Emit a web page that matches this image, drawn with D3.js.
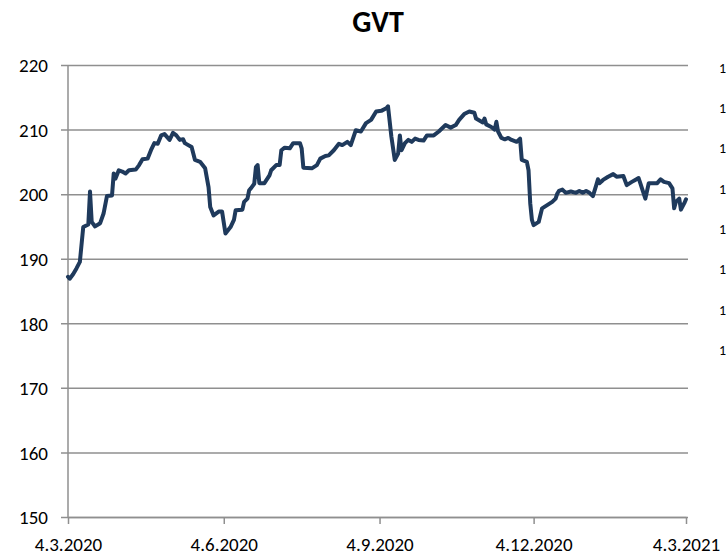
<!DOCTYPE html>
<html lang="en">
<head>
  <meta charset="UTF-8">
  <title>GVT</title>
  <script src="https://cdnjs.cloudflare.com/ajax/libs/d3/7.8.5/d3.min.js"></script>
  <style>
    body { margin: 0; background: #fff; }
    text { font-family: Carlito, Lato, sans-serif; fill: #000; }
  </style>
</head>
<body>
  <div id="chart"></div>
  <script>
// data
var dates = [
  "2020-03-04","2020-03-05","2020-03-07","2020-03-09","2020-03-11","2020-03-13","2020-03-16","2020-03-17",
  "2020-03-18","2020-03-20","2020-03-23","2020-03-25","2020-03-27","2020-03-30","2020-03-31","2020-04-01",
  "2020-04-03","2020-04-05","2020-04-07","2020-04-09","2020-04-13","2020-04-15","2020-04-17","2020-04-20",
  "2020-04-22","2020-04-24","2020-04-26","2020-04-28","2020-04-30","2020-05-03","2020-05-05","2020-05-07",
  "2020-05-09","2020-05-11","2020-05-12","2020-05-16","2020-05-18","2020-05-21","2020-05-24","2020-05-26",
  "2020-05-27","2020-05-29","2020-06-01","2020-06-03","2020-06-05","2020-06-08","2020-06-10","2020-06-11",
  "2020-06-15","2020-06-16","2020-06-18","2020-06-19","2020-06-20","2020-06-22","2020-06-23","2020-06-24",
  "2020-06-25","2020-06-28","2020-07-01","2020-07-02","2020-07-05","2020-07-07","2020-07-08","2020-07-10",
  "2020-07-13","2020-07-15","2020-07-19","2020-07-20","2020-07-21","2020-07-26","2020-07-29","2020-07-31",
  "2020-08-03","2020-08-05","2020-08-08","2020-08-11","2020-08-13","2020-08-16","2020-08-18","2020-08-21",
  "2020-08-24","2020-08-27","2020-08-30","2020-09-02","2020-09-05","2020-09-08","2020-09-09","2020-09-11",
  "2020-09-13","2020-09-15","2020-09-16","2020-09-17","2020-09-19","2020-09-21","2020-09-23","2020-09-25",
  "2020-09-27","2020-09-30","2020-10-02","2020-10-06","2020-10-09","2020-10-13","2020-10-16","2020-10-19",
  "2020-10-21","2020-10-24","2020-10-27","2020-10-30","2020-10-31","2020-11-02","2020-11-04","2020-11-05",
  "2020-11-06","2020-11-09","2020-11-11","2020-11-12","2020-11-13","2020-11-15","2020-11-17","2020-11-19",
  "2020-11-21","2020-11-24","2020-11-26","2020-11-27","2020-11-30","2020-12-01","2020-12-02","2020-12-03",
  "2020-12-04","2020-12-07","2020-12-09","2020-12-12","2020-12-15","2020-12-17","2020-12-18","2020-12-19",
  "2020-12-21","2020-12-23","2020-12-26","2020-12-29","2020-12-31","2021-01-02","2021-01-04","2021-01-06",
  "2021-01-08","2021-01-10","2021-01-11","2021-01-12","2021-01-14","2021-01-17","2021-01-20","2021-01-22",
  "2021-01-26","2021-01-28","2021-01-31","2021-02-02","2021-02-04","2021-02-05","2021-02-06","2021-02-08",
  "2021-02-10","2021-02-13","2021-02-15","2021-02-17","2021-02-19","2021-02-22","2021-02-24","2021-02-25",
  "2021-02-26","2021-02-28","2021-03-01","2021-03-03","2021-03-04"
];
var values = [
  187.2,186.9,187.6,188.5,189.5,194.9,195.3,200.4,
  195.7,195.0,195.5,197.0,199.7,199.8,203.2,202.4,
  203.7,203.5,203.2,203.7,203.8,204.5,205.4,205.5,
  206.8,207.9,207.8,209.1,209.3,208.4,209.5,209.1,
  208.4,208.5,207.9,207.3,205.3,205.0,204.0,201.1,
  198.0,196.7,197.3,197.3,193.9,194.9,196.0,197.5,
  197.6,198.8,199.3,200.6,200.9,201.6,204.2,204.5,
  201.7,201.7,202.9,203.7,204.5,204.5,206.8,207.2,
  207.1,207.9,207.9,207.1,204.1,204.0,204.5,205.5,
  205.9,206.0,206.8,207.8,207.6,208.1,207.6,209.9,
  209.7,211.0,211.5,212.8,212.9,213.3,213.6,208.9,
  205.3,206.3,209.1,206.8,207.9,208.4,208.1,208.6,
  208.4,208.3,209.1,209.1,209.7,210.7,210.3,210.7,
  211.5,212.4,212.8,212.6,211.7,211.4,211.1,211.7,
  210.8,210.4,210.0,211.2,209.7,208.7,208.5,208.7,
  208.4,208.1,208.6,205.3,205.0,203.7,198.6,196.0,
  195.2,195.7,197.8,198.3,198.8,199.3,200.1,200.5,
  200.7,200.2,200.4,200.2,200.5,200.2,200.5,200.2,
  199.7,201.4,202.3,201.7,202.2,202.7,203.1,202.7,
  202.8,201.4,201.9,202.2,202.5,201.7,200.9,199.3,
  201.7,201.7,201.7,202.3,201.9,201.7,200.9,197.8,
  198.8,199.3,197.6,198.6,199.2
];
var xTickDates = ["2020-03-04","2020-06-04","2020-09-04","2020-12-04","2021-03-04"];
var yTicks = [150, 160, 170, 180, 190, 200, 210, 220];
// right-hand labels, cut off at the edge of the picture
var rightTicks = [1.70, 1.65, 1.60, 1.55, 1.50, 1.45, 1.40, 1.35];

var svgWidth = 726;
var svgHeight = 557;
var margin = { top: 65, right: 40, bottom: 40, left: 68 };
var width = 686 - margin.left;
var height = 517 - margin.top;

var parseDate = d3.timeParse("%Y-%m-%d");
var fmtDate = d3.timeFormat("%-d.%-m.%Y");
var data = dates.map(function(d, i) {
  return { date: parseDate(d), value: values[i] };
});

var svg = d3.select("#chart")
  .append("svg")
  .attr("width", svgWidth)
  .attr("height", svgHeight);

var chartGroup = svg.append("g")
  .attr("transform", `translate(${margin.left}, ${margin.top})`);

var xScale = d3.scaleTime()
  .domain([parseDate(xTickDates[0]), parseDate(xTickDates[xTickDates.length - 1])])
  .range([0, width]);

var yScale = d3.scaleLinear()
  .domain([150, 220])
  .range([height, 0]);

var gridColor = "#8f8f8f";

// horizontal gridlines + left labels
var leftAxis = d3.axisLeft(yScale)
  .tickValues(yTicks)
  .tickSize(-width - 2)
  .tickSizeOuter(0);

var yAxis = chartGroup.append("g")
  .call(leftAxis);
yAxis.select(".domain").remove();
yAxis.selectAll(".tick line")
  .attr("x1", -7)
  .attr("stroke", gridColor)
  .attr("stroke-width", 1.5);
yAxis.selectAll(".tick text")
  .attr("x", -20)
  .attr("dy", "0.36em")
  .style("font-size", "19px")
  .style("font-family", "Carlito, Lato, sans-serif");

// vertical axis line
chartGroup.append("line")
  .attr("x1", 0).attr("x2", 0)
  .attr("y1", 0).attr("y2", height)
  .attr("stroke", gridColor)
  .attr("stroke-width", 1.5);

// bottom axis
var bottomAxis = d3.axisBottom(xScale)
  .tickValues(xTickDates.map(parseDate))
  .tickFormat(fmtDate)
  .tickSize(7)
  .tickSizeOuter(0)
  .tickPadding(14);

var xAxis = chartGroup.append("g")
  .attr("transform", `translate(0, ${height})`)
  .call(bottomAxis);
xAxis.select(".domain")
  .attr("stroke", gridColor)
  .attr("stroke-width", 1.5);
xAxis.selectAll(".tick line")
  .attr("stroke", gridColor)
  .attr("stroke-width", 1.5);
xAxis.selectAll(".tick text")
  .style("font-size", "19px")
  .style("font-family", "Carlito, Lato, sans-serif");

// price line
var line = d3.line()
  .x(d => xScale(d.date))
  .y(d => yScale(d.value));

chartGroup.append("path")
  .datum(data)
  .attr("fill", "none")
  .attr("stroke", "#1f3a5c")
  .attr("stroke-width", 4)
  .attr("stroke-linejoin", "round")
  .attr("stroke-linecap", "round")
  .attr("d", line);

// secondary labels on the right (mostly outside the picture)
var rightScale = d3.scaleLinear()
  .domain([1.35, 1.70])
  .range([350, 68]);

svg.append("g")
  .selectAll("text")
  .data(rightTicks)
  .enter()
  .append("text")
  .attr("x", 719)
  .attr("y", d => rightScale(d))
  .attr("dy", "0.35em")
  .style("font-size", "14px")
  .text(d => d3.format(".2f")(d));

// title
svg.append("text")
  .attr("x", 378)
  .attr("y", 32)
  .attr("text-anchor", "middle")
  .style("font-size", "30px")
  .style("font-weight", "bold")
  .text("GVT");
  </script>
</body>
</html>
